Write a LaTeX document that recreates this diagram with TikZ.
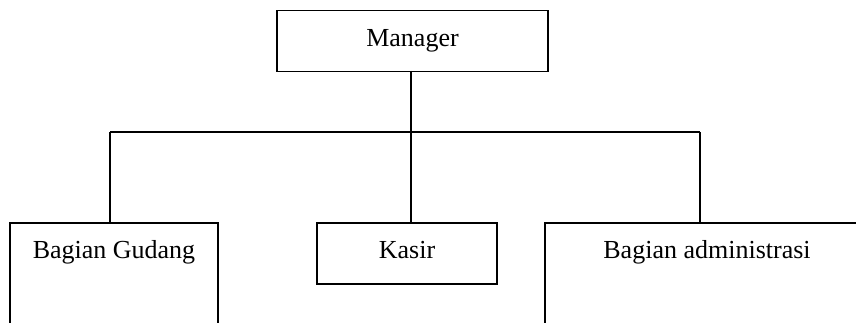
\documentclass[tikz,border=0pt]{standalone}
\usepackage{fontspec}
\setmainfont{Liberation Serif}
\begin{document}
\begin{tikzpicture}[x=1pt, y=-1pt,
  unit/.style={draw, line width=1.5pt, anchor=north, inner xsep=0pt,
    inner ysep=18pt, text height=18pt, font=\fontsize{26}{30}\selectfont},
  link/.style={line width=1.5pt}]
  \path[use as bounding box, clip] (0,0) rectangle (856,323);

  % top of the hierarchy
  \node[unit, minimum width=271pt, text depth=7pt] (mgr) at (412.5,10) {Manager};

  % staff units; the two outer boxes run past the page edges
  \node[unit, minimum width=208pt, text depth=120pt] (gud) at (114,222) {Bagian Gudang};
  \node[unit, minimum width=180pt, text depth=7pt] (kas) at (407,222) {Kasir};
  \node[unit, minimum width=324pt, text depth=120pt] (adm) at (707,222) {Bagian administrasi};

  % branching bus
  \coordinate (bl) at (110,132);
  \coordinate (br) at (700,132);
  \coordinate (mx) at (411,71);

  \draw[link] (mx) -- (mx |- kas.north);
  \draw[link] (bl) -- (br);
  \draw[link] (bl) -- (bl |- gud.north);
  \draw[link] (br) -- (br |- adm.north);
\end{tikzpicture}
\end{document}
